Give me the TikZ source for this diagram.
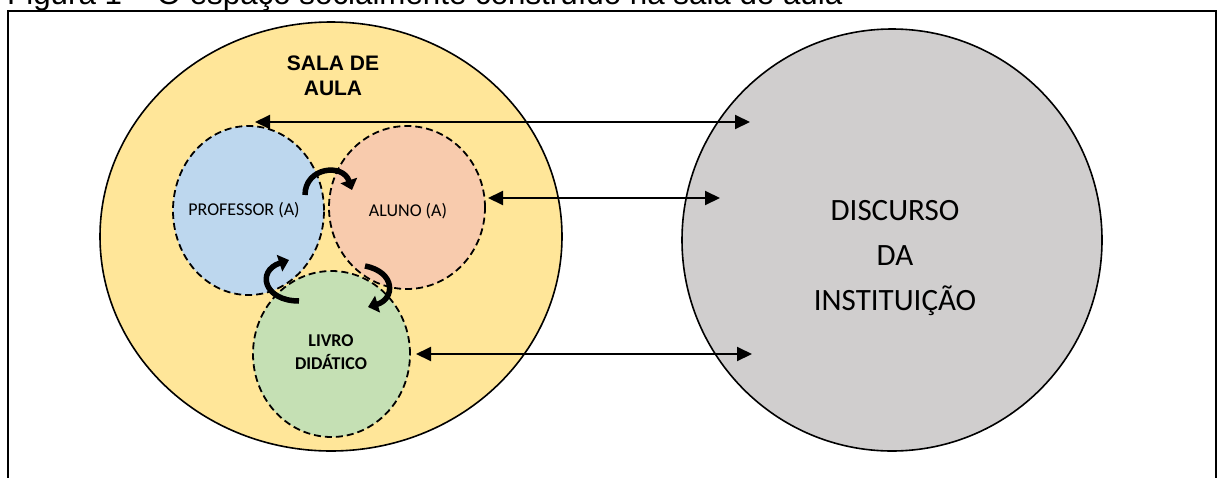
\documentclass[tikz,border=0pt]{standalone}
\usepackage{fontspec}
\setmainfont{Carlito}
\newfontfamily\arialf{Liberation Sans}
\usetikzlibrary{shapes.geometric,arrows.meta}
\definecolor{salaY}{HTML}{FFE699}
\definecolor{profB}{HTML}{BDD7EE}
\definecolor{alunoP}{HTML}{F8CBAD}
\definecolor{livroG}{HTML}{C5E0B4}
\definecolor{discG}{HTML}{D0CECE}
\tikzset{
  bigcirc/.style={ellipse, draw=black, line width=1.6pt, inner sep=0pt},
  dashcirc/.style={ellipse, draw=black, line width=1.8pt, dash pattern=on 7pt off 4pt, inner sep=0pt},
  biarrow/.style={line width=2pt, {Triangle[length=15pt,width=14pt]}-{Triangle[length=15pt,width=14pt]}},
  curvarrow/.style={line width=5.5pt, -{Triangle[length=10pt,width=17pt]}},
  smalltxt/.style={font=\fontsize{18}{22}\selectfont, inner sep=0pt, align=center},
}
\begin{document}
\begin{tikzpicture}[x=1pt,y=1pt]
\clip (0,0) rectangle (1218,-477);
% caption (cut by the top edge)
\node[anchor=base west, inner sep=0pt, font=\arialf\fontsize{31.3}{36}\selectfont] (cap) at (7,-4) {Figura 1 – O espaço socialmente construído na sala de aula};
% frame
\draw[line width=2pt] (8,-495) -- (8,-11) -- (1216,-11) -- (1216,-495);
% big circles
\node[bigcirc, fill=salaY, minimum width=462pt, minimum height=429pt] (sala) at (331,-236.5) {};
\node[bigcirc, fill=discG, minimum width=420pt, minimum height=422pt] (disc) at (892,-240) {};
% inner circles
\node[dashcirc, fill=profB, minimum width=151pt, minimum height=169pt] (prof) at (248.5,-210.5) {};
\node[dashcirc, fill=alunoP, minimum width=156pt, minimum height=163pt] (aluno) at (407,-207.5) {};
\node[dashcirc, fill=livroG, minimum width=157pt, minimum height=166pt] (livro) at (331.5,-354) {};
% texts
\node[inner sep=0pt, align=center, font=\arialf\bfseries\fontsize{21}{25}\selectfont] (salatxt) at (333,-76) {SALA DE\\AULA};
\node[smalltxt] (proftxt) at (244,-210) {PROFESSOR (A)};
\node[smalltxt] (alunotxt) at (408,-211) {ALUNO (A)};
\node[smalltxt, font=\bfseries\fontsize{18}{23}\selectfont] (livrotxt) at (331,-352) {LIVRO\\DIDÁTICO};
\node[inner sep=0pt, align=center, font=\fontsize{31}{45}\selectfont] (disctxt) at (895,-258) {DISCURSO\\DA\\INSTITUIÇÃO};
% straight double arrows
\coordinate (a1l) at (255,-122);
\coordinate (a1r) at (750,-122);
\coordinate (a2l) at (488,-198);
\coordinate (a2r) at (720,-198);
\coordinate (a3l) at (416,-354);
\coordinate (a3r) at (752,-354);
\draw[biarrow] (a1l) -- (a1r);
\draw[biarrow] (a2l) -- (a2r);
\draw[biarrow] (a3l) -- (a3r);
% curved arrows
\coordinate (c1s) at (305,-195);
\coordinate (c1e) at (352,-190);
\draw[curvarrow] (c1s) .. controls (305,-167) and (343,-163) .. (c1e);
\coordinate (c2s) at (299,-301);
\coordinate (c2e) at (289,-260);
\draw[curvarrow] (c2s) .. controls (264,-301) and (256,-271) .. (c2e);
\coordinate (c3s) at (365,-266);
\coordinate (c3e) at (368,-307);
\draw[curvarrow] (c3s) .. controls (396,-272) and (395,-299) .. (c3e);
\end{tikzpicture}
\end{document}
